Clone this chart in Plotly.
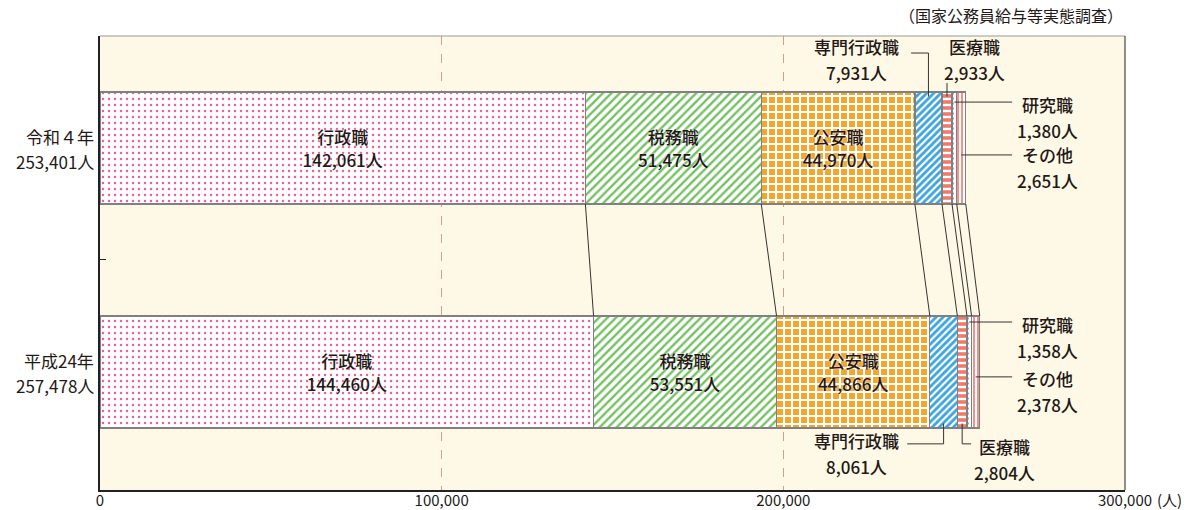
import plotly.graph_objects as go

# ---------------- data ----------------
categories = ["平成24年", "令和４年"]          # y index 0, 1
category_totals = ["257,478人", "253,401人"]
occupations = ["行政職", "税務職", "公安職", "専門行政職", "医療職", "研究職", "その他"]
values_h24 = [144460, 53551, 44866, 8061, 2804, 1358, 2378]
values_r4 = [142061, 51475, 44970, 7931, 2933, 1380, 2651]
x_tick_values = [0, 100000, 200000, 300000]
x_tick_labels = ["0", "100,000", "200,000", "300,000"]
source_note = "（国家公務員給与等実態調査）"
unit_label = "(人)"

# ---------------- styles ----------------
FONT = "Noto Sans CJK JP, Noto Sans, sans-serif"
TXT = "#231815"
patterns = [
    dict(shape=".", fgcolor="#EC5FA0", bgcolor="#FFFFFF", size=6, solidity=0.14, fillmode="replace"),
    dict(shape="/", fgcolor="#74C062", bgcolor="#FFFFFF", size=6, solidity=0.4, fillmode="replace"),
    dict(shape="+", fgcolor="#FFFFFF", bgcolor="#F6A52B", size=8, solidity=0.45, fillmode="replace"),
    dict(shape="/", fgcolor="#3CA4DE", bgcolor="#FFFFFF", size=5, solidity=0.55, fillmode="replace"),
    dict(shape="-", fgcolor="#FFFFFF", bgcolor="#F07A6A", size=6, solidity=0.4, fillmode="replace"),
    dict(shape=".", fgcolor="#8C7FC6", bgcolor="#FFFFFF", size=5, solidity=0.2, fillmode="replace"),
    dict(shape="|", fgcolor="#E8473E", bgcolor="#FFFFFF", size=4, solidity=0.3, fillmode="replace"),
]
BAR_W = 0.5

fig = go.Figure()

for i, occ in enumerate(occupations):
    vals = [values_h24[i], values_r4[i]]
    texts = [f"{occ}<br>{v:,}人" for v in vals] if i < 3 else ["", ""]
    fig.add_trace(go.Bar(
        orientation="h",
        y=[0, 1],
        x=vals,
        width=BAR_W,
        name=occ,
        text=texts,
        textposition="inside",
        insidetextanchor="middle",
        textangle=0,
        constraintext="none",
        textfont=dict(family=FONT, size=17, color=TXT, weight=500,
                      shadow="0px 0px 2px #ffffff"),
        marker=dict(pattern=patterns[i], color=patterns[i]["bgcolor"],
                    line=dict(color="#808080", width=1.3)),
        hoverinfo="skip",
        showlegend=False,
    ))

# cumulative boundaries
def cumul(vals):
    out, s = [], 0
    for v in vals:
        s += v
        out.append(s)
    return out

cum_h24 = cumul(values_h24)
cum_r4 = cumul(values_r4)
mid_h24 = [c - v / 2 for c, v in zip(cum_h24, values_h24)]
mid_r4 = [c - v / 2 for c, v in zip(cum_r4, values_r4)]

# connecting lines between the two bars
cx, cy = [], []
for a, b in zip(cum_r4, cum_h24):
    cx += [a, b, None]
    cy += [1 - BAR_W / 2, 0 + BAR_W / 2, None]
fig.add_trace(go.Scatter(x=cx, y=cy, mode="lines",
                         line=dict(color="#333333", width=1),
                         hoverinfo="skip", showlegend=False))

# ---------------- callouts ----------------
top_r4 = 1 + BAR_W / 2
bot_h24 = 0 - BAR_W / 2
LABEL_X = 277200
LEAD_END = 266960
lx, ly = [], []
def seg(xs, ys):
    lx.extend(xs + [None]); ly.extend(ys + [None])

# 令和4年
seg([237400, mid_r4[3], mid_r4[3]], [1.424, 1.424, top_r4 - 0.02])   # 専門行政職
seg([mid_r4[4], mid_r4[4]], [1.29, top_r4 - 0.02])                    # 医療職
seg([mid_r4[5], LEAD_END], [1.205, 1.205])                            # 研究職
seg([mid_r4[6], LEAD_END], [0.969, 0.969])                            # その他
# 平成24年
seg([mid_h24[5], LEAD_END], [0.223, 0.223])                           # 研究職
seg([mid_h24[6], LEAD_END], [-0.022, -0.022])                         # その他
seg([236260, mid_h24[3], mid_h24[3]], [-0.321, -0.321, bot_h24 + 0.02])  # 専門行政職
seg([mid_h24[4], mid_h24[4], 254970], [bot_h24 + 0.02, -0.321, -0.321])  # 医療職

fig.add_trace(go.Scatter(x=lx, y=ly, mode="lines",
                         line=dict(color="#333333", width=1),
                         hoverinfo="skip", showlegend=False))

annotations = []
def callout(x, y, i, val):
    for k, t in enumerate([occupations[i], f"{val:,}人"]):
        annotations.append(dict(
            x=x, y=y, xref="x", yref="y", text=t, showarrow=False,
            xanchor="center", yanchor="middle", yshift=13 - 26 * k,
            font=dict(family=FONT, size=17, color=TXT, weight=500)))

callout(221350, 1.393, 3, values_r4[3])
callout(255850, 1.393, 4, values_r4[4])
callout(LABEL_X, 1.138, 5, values_r4[5])
callout(LABEL_X, 0.915, 6, values_r4[6])
callout(LABEL_X, 0.156, 5, values_h24[5])
callout(LABEL_X, -0.089, 6, values_h24[6])
callout(221350, -0.366, 3, values_h24[3])
callout(264620, -0.393, 4, values_h24[4])

# category labels
for yi, (cat, tot) in enumerate(zip(categories, category_totals)):
    for k, t in enumerate([cat, tot]):
        annotations.append(dict(
            x=0, y=yi, xref="paper", yref="y", text=t, showarrow=False,
            xanchor="right", yanchor="middle", xshift=-4, yshift=11 - 25 * k,
            font=dict(family=FONT, size=17, color=TXT)))

# source note
annotations.append(dict(x=1, y=1, xref="paper", yref="paper", text=source_note,
                        showarrow=False, xanchor="right", yanchor="bottom", yshift=7,
                        font=dict(family=FONT, size=16, color=TXT)))
# unit label
annotations.append(dict(x=x_tick_values[-1], y=0, xref="x", yref="paper", text=unit_label,
                        showarrow=False, xanchor="left", yanchor="middle", xshift=30, yshift=-9,
                        font=dict(family=FONT, size=15, color=TXT)))

fig.update_layout(
    width=1198, height=510,
    margin=dict(l=100, r=73, t=36, b=20),
    paper_bgcolor="#FFFFFF",
    plot_bgcolor="#FEF9E7",
    barmode="stack",
    annotations=annotations,
    shapes=[
        dict(type="line", xref="paper", yref="paper", x0=0, x1=1, y0=1, y1=1,
             line=dict(color="#9A9A9A", width=1.2), layer="above"),
        dict(type="line", xref="paper", yref="paper", x0=1, x1=1, y0=0, y1=1,
             line=dict(color="#444444", width=1.2), layer="above"),
    ],
    xaxis=dict(range=[0, 300000], tickvals=x_tick_values, ticktext=x_tick_labels,
               showgrid=True, gridcolor="#C9A287", griddash="dash", gridwidth=1,
               zeroline=False, showline=True, linecolor="#222222", linewidth=1.5,
               ticks="", automargin=False, ticklabelstandoff=-4,
               tickfont=dict(family=FONT, size=15, color=TXT)),
    yaxis=dict(range=[-0.527, 1.5], tickvals=[0.5], ticks="inside", ticklen=6,
               tickcolor="#222222", showticklabels=False, showgrid=False,
               zeroline=False, showline=True, linecolor="#222222", linewidth=1.5,
               automargin=False),
)

fig.write_html("out.html", config={"displayModeBar": False})

# remove default page margin so the figure sits at the window's top-left corner
with open("out.html", "r", encoding="utf-8") as f:
    html = f.read()
html = html.replace("<head>", "<head><style>html,body{margin:0;padding:0;overflow:hidden;}</style>", 1)
with open("out.html", "w", encoding="utf-8") as f:
    f.write(html)
